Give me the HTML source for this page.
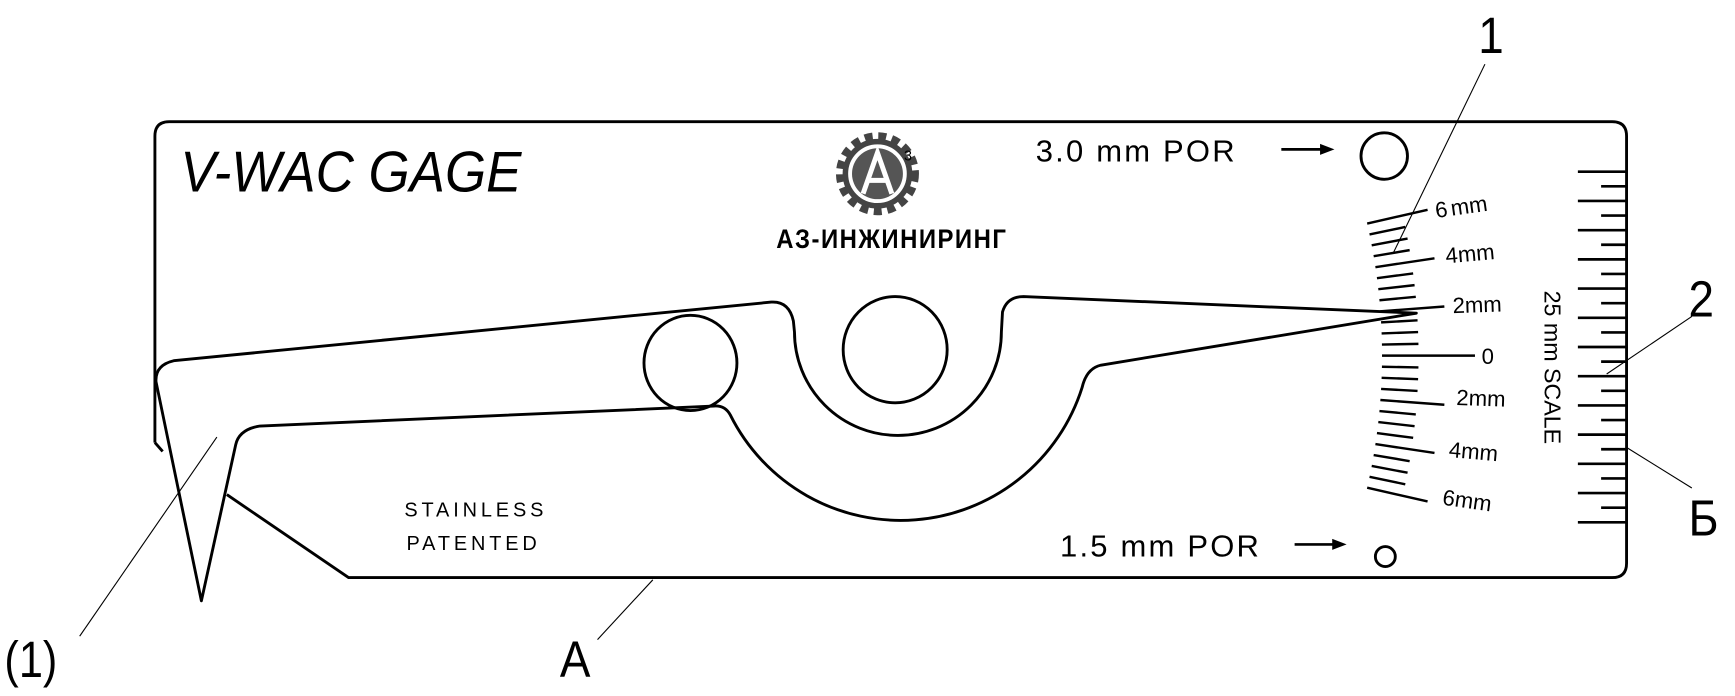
<!DOCTYPE html>
<html><head><meta charset="utf-8"><style>
html,body{margin:0;padding:0;background:#fff}
svg{display:block}
text{font-family:"Liberation Sans","DejaVu Sans",sans-serif;fill:#000}
</style></head><body>
<svg width="1735" height="696" viewBox="0 0 1568 629" xmlns="http://www.w3.org/2000/svg">
<g fill="none" stroke="#000" stroke-width="2.6" stroke-linejoin="round">
<path d="M140,400 L140,123 Q140,110 153,110 L1457,110 Q1470,110 1470,123 L1470,509 Q1470,522 1457,522 L315,522 L205,447"/>
<path d="M140,400 L147,408"/>
<path d="M157,326 L697,273 Q713,272 717,290 L718,300 A93,93 0 0 0 905,300 L906,282 Q910,268 925,268 L1280,283 L995,330 Q982,333 978,350 A172,172 0 0 1 660,375 Q655,366 645,367 L235,385 Q216,388 213,402 L182,543 L141,345 Q140,330 157,326 Z"/>
<ellipse cx="624" cy="328" rx="42" ry="43"/>
<ellipse cx="809" cy="316" rx="47" ry="48"/>
<circle cx="1251" cy="141" r="21"/>
<circle cx="1252" cy="503" r="9"/>
</g>
<g stroke="#000" stroke-width="2.4" id="ruler"></g>
<g stroke="#000" stroke-width="2.2" id="fan"></g>
<script>
(function(){
var ns="http://www.w3.org/2000/svg";
var r=document.getElementById("ruler");
for(var i=0;i<25;i++){var y=155.2+i*13.2;var l=document.createElementNS(ns,"line");
l.setAttribute("x1",i%2==0?1426:1447);l.setAttribute("x2",1470);l.setAttribute("y1",y);l.setAttribute("y2",y);r.appendChild(l);}
var f=document.getElementById("fan");var px=712,py=321.4,rin=537;
for(var k=-12;k<=12;k++){var a=k*1.07*Math.PI/180;var len=33;
if(k==0)len=84;else if(Math.abs(k)==4)len=58;else if(Math.abs(k)==8)len=54;else if(Math.abs(k)==12)len=56;
var r0=rin,r1=rin+len;var l=document.createElementNS(ns,"line");
l.setAttribute("x1",px+r0*Math.cos(a));l.setAttribute("y1",py+r0*Math.sin(a));
l.setAttribute("x2",px+r1*Math.cos(a));l.setAttribute("y2",py+r1*Math.sin(a));f.appendChild(l);}
})();
</script>
<g font-size="20">
<text x="1298" y="197" transform="rotate(-8 1298 197)">6<tspan dx="3">mm</tspan></text>
<text x="1307" y="238" transform="rotate(-5 1307 238)">4mm</text>
<text x="1313" y="283" transform="rotate(-2 1313 283)">2mm</text>
<text x="1339" y="329">0</text>
<text x="1316" y="366" transform="rotate(2 1316 366)">2mm</text>
<text x="1309" y="413" transform="rotate(5 1309 413)">4mm</text>
<text x="1303" y="456" transform="rotate(8 1303 456)">6mm</text>
</g>
<text x="1403" y="332" font-size="21" text-anchor="middle" transform="rotate(90 1403 332)" dy="7">25 mm SCALE</text>
<text x="936" y="146" font-size="28" letter-spacing="2">3.0 mm POR</text>
<line x1="1158" y1="135" x2="1195" y2="135" stroke="#000" stroke-width="2.4"/>
<polygon points="1193,130 1206,135 1193,140" fill="#000"/>
<text x="958" y="503" font-size="28" letter-spacing="2">1.5 mm POR</text>
<line x1="1170" y1="492" x2="1206" y2="492" stroke="#000" stroke-width="2.4"/>
<polygon points="1204,487 1217,492 1204,497" fill="#000"/>
<text x="163" y="173" font-size="52" font-style="italic" transform="translate(163 0) scale(0.92 1) translate(-163 0)">V-WAC GAGE</text>
<text x="430" y="467" font-size="18" text-anchor="middle" letter-spacing="3.5">STAINLESS</text>
<text x="428" y="497" font-size="18" text-anchor="middle" letter-spacing="3.5">PATENTED</text>
<g transform="translate(793,157)">
<circle r="33" fill="none" stroke="#444" stroke-width="9" stroke-dasharray="7 5"/>
<circle r="29" fill="none" stroke="#444" stroke-width="5"/>
<circle r="23" fill="#555"/>
<path d="M-13,18 L0,-19 L13,18 M-8,6 L8,6" stroke="#fff" stroke-width="4.5" fill="none"/>
<text x="24" y="-12" font-size="13" fill="#333">3</text>
</g>
<text x="806" y="224" font-size="24" font-weight="bold" text-anchor="middle" letter-spacing="1.5" transform="translate(806 0) scale(0.9 1) translate(-806 0)">АЗ-ИНЖИНИРИНГ</text>
<g stroke="#000" stroke-width="1">
<line x1="1342" y1="58" x2="1259" y2="229"/>
<line x1="1529" y1="286" x2="1452" y2="338"/>
<line x1="1529" y1="441" x2="1471" y2="405"/>
<line x1="72" y1="575" x2="196" y2="395"/>
<line x1="540" y1="578" x2="590" y2="524"/>
</g>
<g font-size="46">
<text x="1336" y="48" transform="translate(1336 0) scale(0.9 1) translate(-1336 0)">1</text>
<text x="1526" y="286" transform="translate(1526 0) scale(0.9 1) translate(-1526 0)">2</text>
<text x="1526" y="484" transform="translate(1526 0) scale(0.9 1) translate(-1526 0)">Б</text>
<text x="4" y="612" transform="translate(4 0) scale(0.85 1) translate(-4 0)">(1)</text>
<text x="506" y="612" transform="translate(506 0) scale(0.9 1) translate(-506 0)">A</text>
</g>
</svg>
</body></html>
